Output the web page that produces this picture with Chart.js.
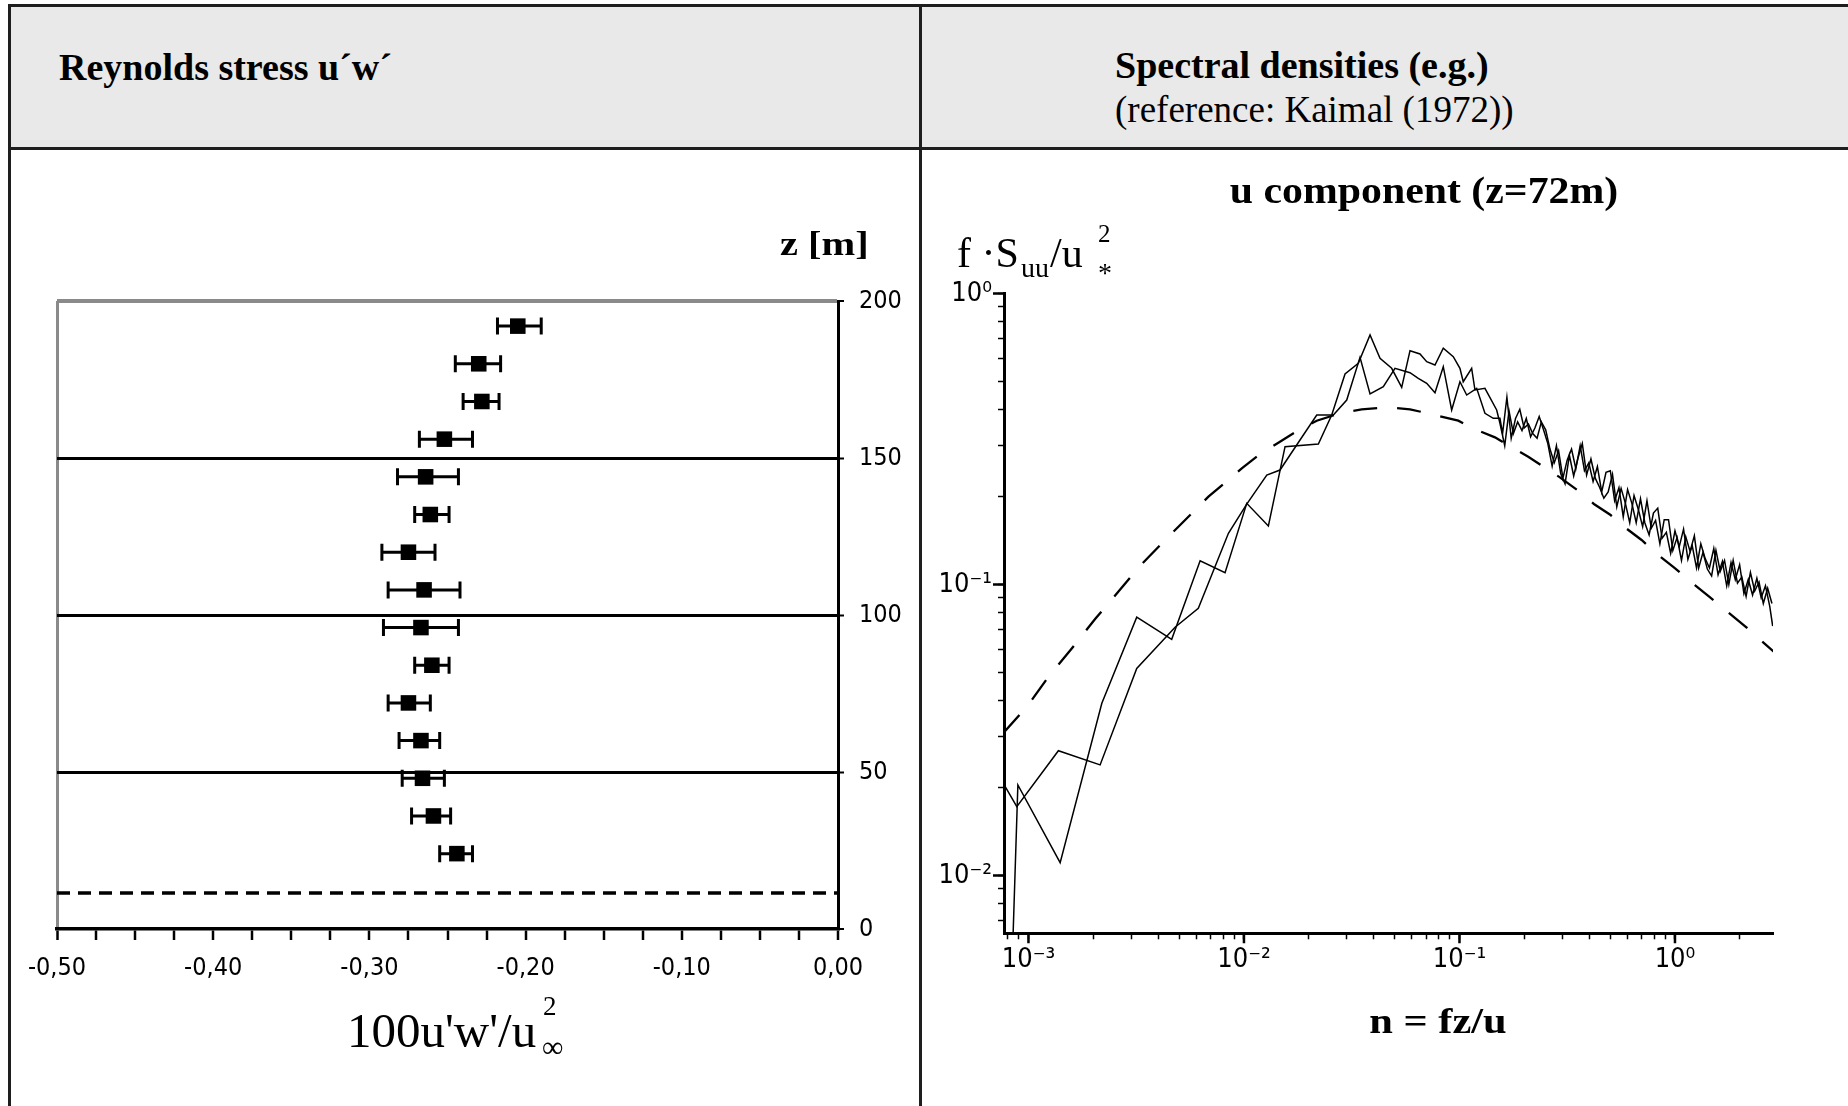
<!DOCTYPE html>
<html><head><meta charset="utf-8">
<script src="https://cdn.jsdelivr.net/npm/chart.js@4"></script>
<style>
html,body{margin:0;padding:0;background:#fff;}
body{width:1848px;height:1106px;position:relative;overflow:hidden;}
.ln{position:absolute;background:#1e1e1e;}
.t{position:absolute;line-height:1;white-space:nowrap;font-family:'Liberation Serif','Times New Roman',serif;color:#000;}
canvas{position:absolute;}
</style></head><body>
<div style="position:absolute;left:8px;top:4px;width:1840px;height:146px;background:#e9e9e9"></div>
<div class="ln" style="left:8px;top:4px;width:1840px;height:3px"></div>
<div class="ln" style="left:8px;top:147px;width:1840px;height:3px"></div>
<div class="ln" style="left:8px;top:4px;width:3px;height:1102px"></div>
<div class="ln" style="left:919px;top:4px;width:3px;height:1102px"></div>

<div class="t" style="left:59px;top:48px;font-size:38px;font-weight:bold">Reynolds stress u´w´</div>
<div class="t" style="left:1115px;top:46px;font-size:38px;font-weight:bold">Spectral densities (e.g.)</div>
<div class="t" style="left:1115px;top:91px;font-size:37px">(reference: Kaimal (1972))</div>

<canvas id="c1" width="908" height="956" style="left:11px;top:150px;width:908px;height:956px"></canvas>
<canvas id="c2" width="926" height="956" style="left:922px;top:150px;width:926px;height:956px"></canvas>

<div class="t" style="left:780px;top:227px;font-size:34px;font-weight:bold;transform:scaleX(1.19);transform-origin:left center">z [m]</div>
<div class="t" style="left:347px;top:1006px;font-size:49px">100u'w'/u</div>
<div class="t" style="left:543px;top:993px;font-size:27px">2</div>
<div class="t" style="left:542px;top:1032px;font-size:30px">∞</div>

<div class="t" style="left:1224px;top:172px;width:400px;text-align:center;font-size:37px;font-weight:bold;transform:scaleX(1.13)">u component (z=72m)</div>
<div class="t" style="left:1238px;top:1003px;width:400px;text-align:center;font-size:36px;font-weight:bold;transform:scaleX(1.18)">n = fz/u</div>
<div class="t" style="left:957px;top:232px;font-size:42px">f ·S</div>
<div class="t" style="left:1021px;top:254px;font-size:28px">uu</div>
<div class="t" style="left:1050px;top:232px;font-size:42px">/u</div>
<div class="t" style="left:1098px;top:221px;font-size:25px">2</div>
<div class="t" style="left:1098px;top:259px;font-size:28px">*</div>

<script>
// ---------- Left chart: Reynolds stress profile ----------
const zHeights   = [24, 36, 48, 60, 72, 84, 96, 108, 120, 132, 144, 156, 168, 180, 192];
const stressMean = [-0.244, -0.259, -0.266, -0.267, -0.275, -0.260, -0.267, -0.265, -0.275, -0.261, -0.264, -0.252, -0.228, -0.230, -0.205];
const stressLow  = [-0.255, -0.273, -0.279, -0.281, -0.288, -0.271, -0.291, -0.288, -0.292, -0.271, -0.282, -0.268, -0.240, -0.245, -0.218];
const stressHigh = [-0.234, -0.248, -0.252, -0.255, -0.261, -0.249, -0.243, -0.242, -0.258, -0.249, -0.243, -0.234, -0.217, -0.216, -0.190];
const roughnessZ = 11.5;
const stressTicks = [-0.5, -0.4, -0.3, -0.2, -0.1, 0];
const stressTickLabels = ['-0,50', '-0,40', '-0,30', '-0,20', '-0,10', '0,00'];
const zTicks = [0, 50, 100, 150, 200];

// ---------- Right chart: spectral densities ----------
const nSpec1 = [7.80e-4, 8.83e-4, 1.377e-3, 2.15e-3, 3.18e-3, 4.79e-3, 6.14e-3, 8.47e-3, 0.0103, 0.01276, 0.0147, 0.0182, 0.02176, 0.02599, 0.02998, 0.03455, 0.03846, 0.04432, 0.05021, 0.05895, 0.0644, 0.07046, 0.07697, 0.08411, 0.092, 0.1005, 0.108, 0.1202, 0.1313, 0.1435, 0.1541,
  0.1585, 0.1660, 0.1738, 0.1820, 0.1905, 0.1995, 0.2089, 0.2188, 0.2291, 0.2399, 0.2512, 0.2630, 0.2754, 0.2884, 0.3020, 0.3162, 0.3311, 0.3467, 0.3631, 0.3802, 0.3981, 0.4169, 0.4365, 0.4571, 0.4786, 0.5012, 0.5248, 0.5495, 0.5754, 0.6026, 0.6310, 0.6607, 0.6918, 0.7244, 0.7586, 0.7943, 0.8318, 0.8710, 0.9120, 0.9550, 1.000, 1.047, 1.096, 1.148, 1.202, 1.259, 1.318, 1.380, 1.445, 1.514, 1.585, 1.660, 1.738, 1.820, 1.905, 1.995, 2.089, 2.188, 2.291, 2.399, 2.512, 2.630, 2.754, 2.84];
const sSpec1 = [0.0202, 0.01723, 0.02685, 0.02399, 0.0515, 0.0713, 0.0828, 0.150, 0.189, 0.2378, 0.2474, 0.3138, 0.3824, 0.3824, 0.4305, 0.6035, 0.4515, 0.4783, 0.5533, 0.5343, 0.5111, 0.4913, 0.4561, 0.5603, 0.3978, 0.4975, 0.4479, 0.4723, 0.3876, 0.3725, 0.3725,
  0.330, 0.440, 0.318, 0.372, 0.400, 0.345, 0.356, 0.330, 0.318, 0.362, 0.340, 0.292, 0.262, 0.288, 0.232, 0.268, 0.292, 0.250, 0.300, 0.246, 0.262, 0.226, 0.254, 0.208, 0.243,
  0.246, 0.194, 0.215, 0.171, 0.212, 0.190, 0.163, 0.197, 0.163, 0.148, 0.176, 0.183, 0.144, 0.151, 0.128, 0.153, 0.135, 0.155, 0.122, 0.136, 0.114, 0.138, 0.123, 0.114, 0.133, 0.108, 0.120, 0.099, 0.119, 0.104, 0.117, 0.093, 0.104, 0.092, 0.105, 0.090, 0.099, 0.084, 0.072];
const nSpec2 = [8.22e-4, 8.93e-4, 1.403e-3, 2.19e-3, 3.18e-3, 4.62e-3, 6.26e-3, 8.17e-3, 0.0103, 0.01298, 0.01551, 0.02214, 0.02554, 0.02944, 0.03393, 0.03846, 0.04279, 0.04846, 0.05394, 0.05895, 0.06559, 0.07046, 0.07697, 0.08411, 0.09359, 0.1005, 0.1041, 0.1139, 0.118, 0.1313, 0.1488, 0.1541,
  0.1622, 0.1698, 0.1778, 0.1862, 0.1950, 0.2042, 0.2138, 0.2239, 0.2344, 0.2455, 0.2570, 0.2692, 0.2818, 0.2951, 0.3090, 0.3236, 0.3388, 0.3548, 0.3715, 0.3890, 0.4074, 0.4266, 0.4467, 0.4677, 0.4898, 0.5129, 0.5370, 0.5623, 0.5888, 0.6166, 0.6457, 0.6761, 0.7079, 0.7413, 0.7762, 0.8128, 0.8511, 0.8913, 0.9333, 0.9772, 1.023, 1.072, 1.122, 1.175, 1.230, 1.288, 1.349, 1.413, 1.479, 1.549, 1.622, 1.698, 1.778, 1.862, 1.950, 2.042, 2.138, 2.239, 2.344, 2.455, 2.570, 2.692, 2.818];
const sSpec2 = [0.003, 0.02047, 0.01107, 0.03907, 0.0772, 0.0648, 0.1207, 0.1098, 0.1901, 0.1589, 0.2976, 0.304, 0.3824, 0.5289, 0.5756, 0.7201, 0.5987, 0.5533, 0.476, 0.6361, 0.62, 0.583, 0.5679, 0.6483, 0.6064, 0.5533, 0.4975, 0.5533, 0.466, 0.4723, 0.3978, 0.3581,
  0.300, 0.395, 0.330, 0.362, 0.338, 0.372, 0.322, 0.345, 0.378, 0.340, 0.305, 0.255, 0.300, 0.240, 0.222, 0.278, 0.236, 0.272, 0.305, 0.238, 0.270, 0.232, 0.216, 0.198,
  0.208, 0.239, 0.185, 0.214, 0.190, 0.163, 0.202, 0.181, 0.158, 0.194, 0.156, 0.166, 0.138, 0.167, 0.167, 0.131, 0.145, 0.121, 0.146, 0.130, 0.147, 0.114, 0.129, 0.113, 0.107, 0.131, 0.111, 0.121, 0.100, 0.121, 0.101, 0.106, 0.091, 0.110, 0.095, 0.102, 0.086, 0.097, 0.086];
const nKaimal = [7.65e-4, 9.83e-4, 1.238e-3, 1.578e-3, 2.038e-3, 2.634e-3, 3.357e-3, 4.305e-3, 5.627e-3, 6.84e-3, 8.17e-3, 9.77e-3, 0.01188, 0.01444, 0.0182, 0.02176, 0.02791, 0.03518, 0.04596, 0.05895, 0.07697, 0.09872, 0.1202, 0.1461, 0.1746, 0.2085, 0.2519, 0.2924, 0.3556, 0.4206, 0.5027, 0.5855, 0.6999, 0.8357, 0.9883, 1.237, 1.441, 1.673, 2.11, 2.907];
const sKaimal = [0.0309, 0.038, 0.0482, 0.0599, 0.0761, 0.0952, 0.1176, 0.1422, 0.1733, 0.2003, 0.2238, 0.2507, 0.2809, 0.3072, 0.3414, 0.3655, 0.3876, 0.400, 0.4064, 0.400, 0.3824, 0.3655, 0.3396, 0.3204, 0.2961, 0.2749, 0.2507, 0.2335, 0.2101, 0.1891, 0.1733, 0.1572, 0.1422, 0.1263, 0.1146, 0.0996, 0.0908, 0.0828, 0.072, 0.0583];
const nMajorTicks = [0.001, 0.01, 0.1, 1];
const sMajorTicks = [0.01, 0.1, 1];
const minorMultipliers = [2, 3, 4, 5, 6, 7, 8, 9];
const nRange = [7.7e-4, 2.85];
const sRange = [0.00633, 1];

const narrowFamily = "'Liberation Sans Narrow', 'Arial Narrow', 'DejaVu Sans Condensed', sans-serif";
const tickFont = {family: narrowFamily, size: 25};

const errorBars = {
  id: 'errorBars',
  afterDatasetsDraw(chart) {
    const {ctx, scales: {x, y}} = chart;
    ctx.save();
    ctx.strokeStyle = '#000';
    ctx.lineWidth = 3;
    zHeights.forEach((z, i) => {
      const py = y.getPixelForValue(z);
      const x1 = x.getPixelForValue(stressLow[i]);
      const x2 = x.getPixelForValue(stressHigh[i]);
      ctx.beginPath();
      ctx.moveTo(x1, py); ctx.lineTo(x2, py);
      ctx.moveTo(x1, py - 8.5); ctx.lineTo(x1, py + 8.5);
      ctx.moveTo(x2, py - 8.5); ctx.lineTo(x2, py + 8.5);
      ctx.stroke();
    });
    ctx.restore();
  }
};

new Chart(document.getElementById('c1'), {
  type: 'scatter',
  data: {
    datasets: [
      {
        label: 'u\'w\'',
        data: zHeights.map((z, i) => ({x: stressMean[i], y: z})),
        pointStyle: 'rect', pointRadius: 11, pointHoverRadius: 11,
        backgroundColor: '#000', borderWidth: 0
      },
      {
        type: 'line', label: 'roughness',
        data: [{x: -0.5, y: roughnessZ}, {x: 0, y: roughnessZ}],
        borderColor: '#000', borderWidth: 3.5, borderDash: [13, 8], pointRadius: 0
      }
    ]
  },
  options: {
    responsive: false, animation: false,
    layout: {padding: {left: 46, right: 6, top: 151, bottom: 97}},
    plugins: {legend: {display: false}, tooltip: {enabled: false}},
    scales: {
      x: {
        type: 'linear', position: 'bottom', min: -0.5, max: 0,
        afterBuildTicks: s => {
          const arr = [];
          for (let i = 0; i <= 20; i++) arr.push({value: Math.round((stressTicks[0] + i * 0.025) * 1000) / 1000});
          s.ticks = arr;
        },
        afterFit: s => { s.height = 80; },
        border: {display: true, color: '#000', width: 3.5},
        grid: {
          drawOnChartArea: true,
          color: c => (c.tick && c.tick.value <= -0.4999) ? '#8a8a8a' : 'rgba(0,0,0,0)',
          lineWidth: c => (c.tick && c.tick.value <= -0.4999) ? 3 : 0,
          tickLength: 11, tickColor: '#000', tickWidth: 2.5
        },
        ticks: {
          autoSkip: false, maxRotation: 0, padding: 13, color: '#000', font: tickFont,
          callback: v => {
            const j = stressTicks.findIndex(t => Math.abs(t - v) < 1e-6);
            return j >= 0 ? stressTickLabels[j] : '';
          }
        }
      },
      y: {
        type: 'linear', position: 'right', min: 0, max: 200,
        afterBuildTicks: s => { s.ticks = zTicks.map(v => ({value: v})); },
        afterFit: s => { s.width = 75; },
        border: {display: true, color: '#000', width: 3},
        grid: {
          drawOnChartArea: true,
          color: c => c.tick.value === 200 ? '#8a8a8a' : (c.tick.value === 0 ? 'rgba(0,0,0,0)' : '#000'),
          lineWidth: c => c.tick.value === 200 ? 4 : (c.tick.value === 0 ? 0 : 3),
          tickLength: 6, tickColor: '#000', tickWidth: 2
        },
        ticks: {padding: 15, color: '#000', font: tickFont}
      }
    }
  },
  plugins: [errorBars]
});

const supMap = {'-': '⁻', '0': '⁰', '1': '¹', '2': '²', '3': '³', '4': '⁴'};
function powLabel(v) {
  const e = Math.log10(v), r = Math.round(e);
  if (Math.abs(e - r) > 1e-6) return '';
  return '10' + String(r).split('').map(ch => supMap[ch]).join('');
}
function logTicks(lo, hi) {
  const out = [];
  for (let d = -5; d <= 1; d++) {
    const base = Math.pow(10, d);
    [1].concat(minorMultipliers).forEach(m => {
      const v = parseFloat((base * m).toPrecision(6));
      if (v >= lo * 0.9999 && v <= hi * 1.0001) out.push({value: v});
    });
  }
  return out;
}

const majorTicks = {
  id: 'majorTicks',
  afterDraw(chart) {
    const {ctx, scales: {x, y}, chartArea: a} = chart;
    ctx.save();
    ctx.strokeStyle = '#000';
    ctx.lineWidth = 2.5;
    ctx.beginPath();
    sMajorTicks.forEach(v => { const p = y.getPixelForValue(v); ctx.moveTo(a.left - 11, p); ctx.lineTo(a.left, p); });
    nMajorTicks.forEach(v => { const p = x.getPixelForValue(v); ctx.moveTo(p, a.bottom); ctx.lineTo(p, a.bottom + 10); });
    ctx.stroke();
    ctx.restore();
  }
};

const specFont = {family: narrowFamily, size: 27};

new Chart(document.getElementById('c2'), {
  type: 'line',
  data: {
    datasets: [
      {label: 'spectrum 1', data: nSpec1.map((n, i) => ({x: n, y: sSpec1[i]})), borderColor: '#000', borderWidth: 1.5, pointRadius: 0, tension: 0},
      {label: 'spectrum 2', data: nSpec2.map((n, i) => ({x: n, y: sSpec2[i]})), borderColor: '#000', borderWidth: 1.5, pointRadius: 0, tension: 0},
      {label: 'Kaimal (1972)', data: nKaimal.map((n, i) => ({x: n, y: sKaimal[i]})), borderColor: '#000', borderWidth: 2.3, borderDash: [24, 20], pointRadius: 0, tension: 0}
    ]
  },
  options: {
    responsive: false, animation: false,
    layout: {padding: {left: 0, right: 75, top: 143.5, bottom: 82.7}},
    plugins: {legend: {display: false}, tooltip: {enabled: false}},
    scales: {
      x: {
        type: 'logarithmic', position: 'bottom', min: nRange[0], max: nRange[1],
        afterBuildTicks: s => { s.ticks = logTicks(nRange[0], nRange[1]); },
        afterFit: s => { s.height = 90; },
        border: {display: true, color: '#000', width: 3},
        grid: {drawOnChartArea: false, tickLength: 6, tickColor: '#000', tickWidth: 1.5},
        ticks: {autoSkip: false, maxRotation: 0, padding: 4, color: '#000', font: specFont, callback: v => powLabel(v)}
      },
      y: {
        type: 'logarithmic', position: 'left', min: sRange[0], max: sRange[1],
        afterBuildTicks: s => { s.ticks = logTicks(sRange[0], sRange[1]); },
        afterFit: s => { s.width = 82; },
        border: {display: true, color: '#000', width: 3},
        grid: {drawOnChartArea: false, tickLength: 6, tickColor: '#000', tickWidth: 1.5},
        ticks: {autoSkip: false, padding: 6, color: '#000', font: specFont, callback: v => powLabel(v)}
      }
    }
  },
  plugins: [majorTicks]
});
</script>
</body></html>
